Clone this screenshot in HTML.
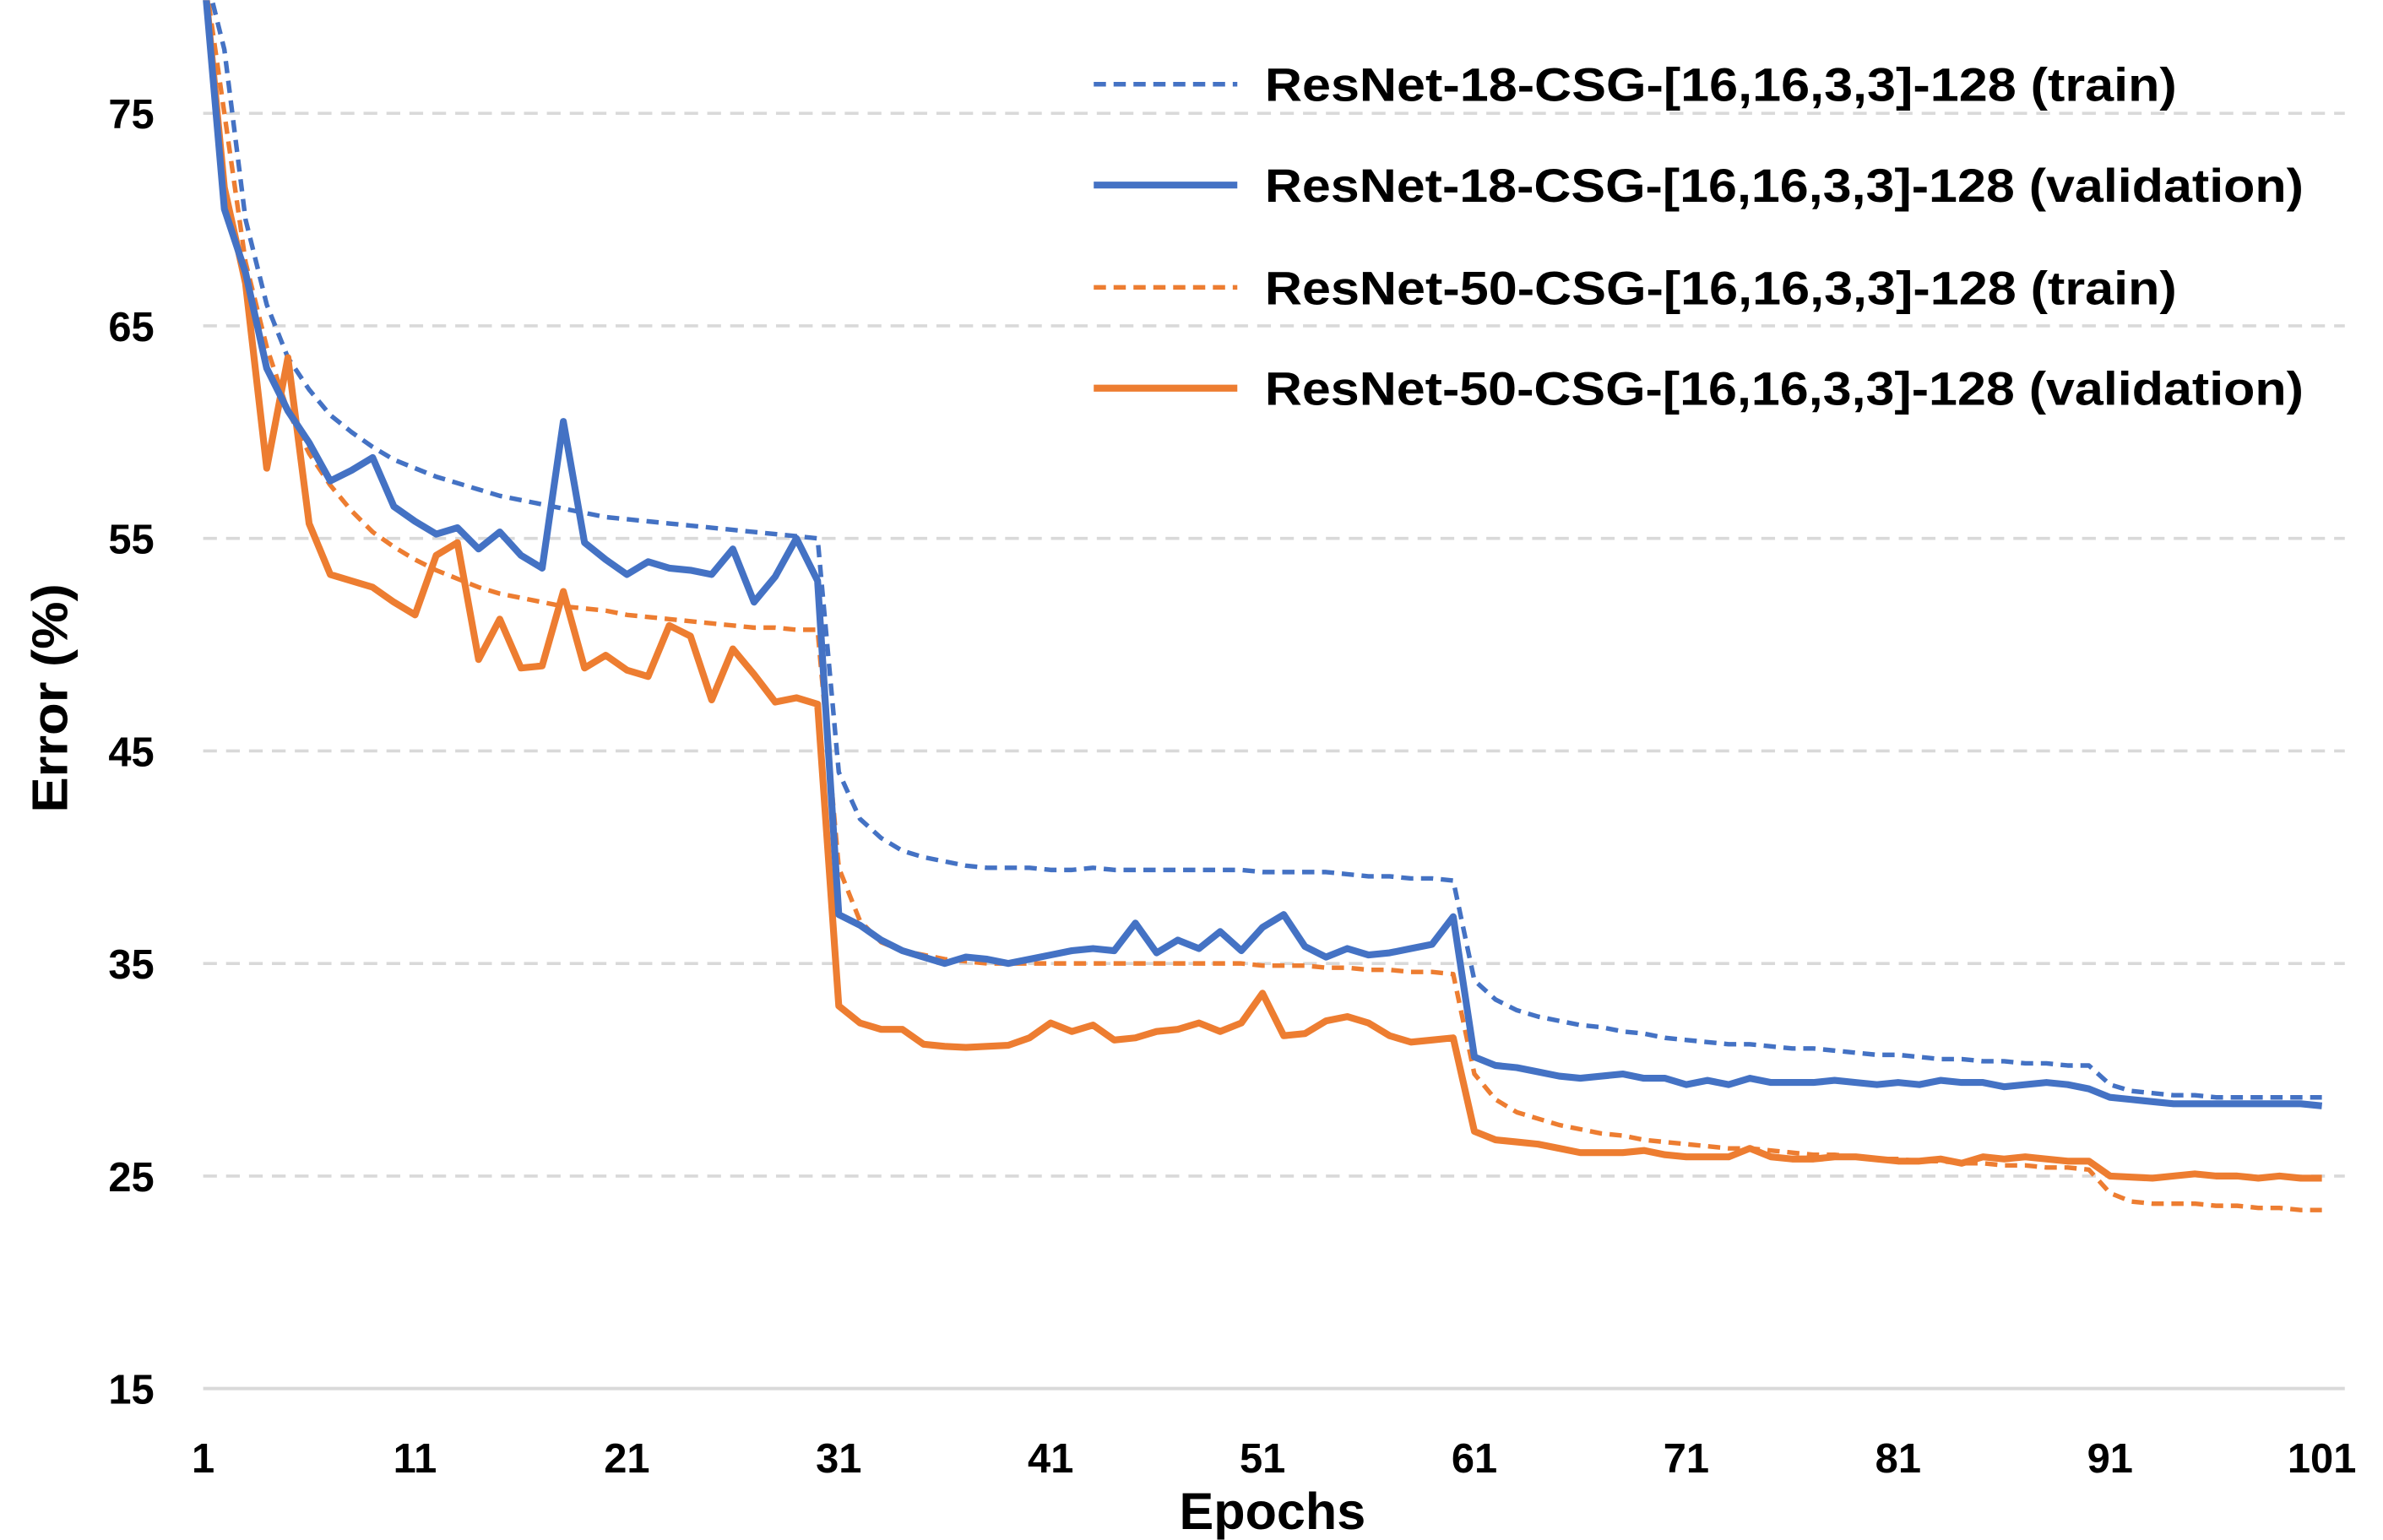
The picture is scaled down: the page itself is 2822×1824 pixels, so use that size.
<!DOCTYPE html>
<html><head><meta charset="utf-8"><style>
html,body{margin:0;padding:0;background:#fff;}
svg{display:block;}
text{font-family:"Liberation Sans",sans-serif;font-weight:bold;fill:#000;}
</style></head><body>
<svg id="chart" width="2822" height="1824" viewBox="0 0 1560 1008" xmlns="http://www.w3.org/2000/svg">
<defs><clipPath id="plotclip"><rect x="120" y="0" width="1420" height="912"/></clipPath></defs>
<g id="grid"></g>
<g id="yticks"></g>
<g id="xticks"></g>
<g id="series" clip-path="url(#plotclip)"></g>
<text x="833" y="1001" font-size="34" text-anchor="middle" textLength="122" lengthAdjust="spacingAndGlyphs">Epochs</text>
<text transform="translate(44,457) rotate(-90)" font-size="33" text-anchor="middle" textLength="150" lengthAdjust="spacingAndGlyphs">Error (%)</text>
<g id="legend"></g>
</svg>
<script>
const yTicks=[15,25,35,45,55,65,75];
const xTickLabels=[1,11,21,31,41,51,61,71,81,91,101];
const seriesNames=["ResNet-18-CSG-[16,16,3,3]-128 (train)","ResNet-18-CSG-[16,16,3,3]-128 (validation)","ResNet-50-CSG-[16,16,3,3]-128 (train)","ResNet-50-CSG-[16,16,3,3]-128 (validation)"];
const r18Train=[82,78,70,66,63.5,62,60.8,60,59.3,58.7,58.3,57.9,57.6,57.3,57.0,56.8,56.6,56.4,56.2,56.0,55.9,55.8,55.7,55.6,55.5,55.4,55.3,55.2,55.1,55.0,44.0,41.8,40.9,40.3,40.0,39.8,39.6,39.5,39.5,39.5,39.4,39.4,39.5,39.4,39.4,39.4,39.4,39.4,39.4,39.4,39.3,39.3,39.3,39.3,39.2,39.1,39.1,39.0,39.0,38.9,34.2,33.3,32.8,32.5,32.3,32.1,32.0,31.8,31.7,31.5,31.4,31.3,31.2,31.2,31.1,31.0,31.0,30.9,30.8,30.7,30.7,30.6,30.5,30.5,30.4,30.4,30.3,30.3,30.2,30.2,29.3,29.0,28.9,28.8,28.8,28.7,28.7,28.7,28.7,28.7,28.7];
const r18Val=[82,70.5,67.5,63,61,59.5,57.7,58.2,58.8,56.5,55.8,55.2,55.5,54.5,55.3,54.2,53.6,60.5,54.8,54,53.3,53.9,53.6,53.5,53.3,54.5,52,53.2,55,53,37.3,36.8,36.1,35.6,35.3,35.0,35.3,35.2,35.0,35.2,35.4,35.6,35.7,35.6,36.9,35.5,36.1,35.7,36.5,35.6,36.7,37.3,35.8,35.3,35.7,35.4,35.5,35.7,35.9,37.2,30.6,30.2,30.1,29.9,29.7,29.6,29.7,29.8,29.6,29.6,29.3,29.5,29.3,29.6,29.4,29.4,29.4,29.5,29.4,29.3,29.4,29.3,29.5,29.4,29.4,29.2,29.3,29.4,29.3,29.1,28.7,28.6,28.5,28.4,28.4,28.4,28.4,28.4,28.4,28.4,28.3];
const r50Train=[82,75,68,64,61,59,57.5,56.3,55.3,54.6,54.0,53.5,53.1,52.7,52.4,52.2,52.0,51.8,51.7,51.6,51.4,51.3,51.2,51.1,51.0,50.9,50.8,50.8,50.7,50.7,39.5,37.0,36.0,35.6,35.4,35.2,35.1,35.0,35.0,35.0,35.0,35.0,35.0,35.0,35.0,35.0,35.0,35.0,35.0,35.0,34.9,34.9,34.9,34.8,34.8,34.7,34.7,34.6,34.6,34.5,29.8,28.6,28.0,27.7,27.4,27.2,27.0,26.9,26.7,26.6,26.5,26.4,26.3,26.3,26.2,26.1,26.0,26.0,25.9,25.8,25.8,25.7,25.7,25.6,25.6,25.5,25.5,25.4,25.4,25.3,24.2,23.8,23.7,23.7,23.7,23.6,23.6,23.5,23.5,23.4,23.4];
const r50Val=[82,71.5,67,58.3,63.5,55.7,53.3,53,52.7,52,51.4,54.2,54.8,49.3,51.2,48.9,49.0,52.5,48.9,49.5,48.8,48.5,50.9,50.4,47.4,49.8,48.6,47.3,47.5,47.2,33,32.2,31.9,31.9,31.2,31.1,31.05,31.1,31.15,31.5,32.2,31.8,32.1,31.4,31.5,31.8,31.9,32.2,31.8,32.2,33.6,31.6,31.7,32.3,32.5,32.2,31.6,31.3,31.4,31.5,27.1,26.7,26.6,26.5,26.3,26.1,26.1,26.1,26.2,26.0,25.9,25.9,25.9,26.3,25.9,25.8,25.8,25.9,25.9,25.8,25.7,25.7,25.8,25.6,25.9,25.8,25.9,25.8,25.7,25.7,25.0,24.95,24.9,25.0,25.1,25.0,25.0,24.9,25.0,24.9,24.9];

const NS="http://www.w3.org/2000/svg";
const X0=133,X1=1520,Y15=909,Y75=74;
function xs(e){return X0+(e-1)*(X1-X0)/100;}
function ys(v){return Y15-(v-15)*(Y15-Y75)/60;}
function mk(tag,attrs,parent){const el=document.createElementNS(NS,tag);for(const k in attrs)el.setAttribute(k,attrs[k]);parent.appendChild(el);return el;}

const grid=document.getElementById('grid'),yt=document.getElementById('yticks'),xt=document.getElementById('xticks');
yTicks.forEach(v=>{
  const l=mk('line',{x1:X0,x2:1535,y1:ys(v),y2:ys(v),stroke:'#d9d9d9','stroke-width':v===15?2.2:2,'stroke-dasharray':v===15?'none':'9,6'},grid);
  
  
  const t=mk('text',{x:101,y:ys(v)+10,'font-size':27,'text-anchor':'end'},yt);
  t.textContent=v;
  
  
});
xTickLabels.forEach(e=>{
  const t=mk('text',{x:xs(e),y:964,'font-size':27,'text-anchor':'middle'},xt);
  t.textContent=e;
  
  
});
const colors=['#4472C4','#4472C4','#ED7D31','#ED7D31'];
const dashed=[true,false,true,false];
const data=[r18Train,r18Val,r50Train,r50Val];
const sg=document.getElementById('series');
const order=[2,0,3,1];
order.forEach(i=>{
  const pts=data[i].map((v,k)=>xs(k+1).toFixed(2)+','+ys(v).toFixed(2)).join(' ');
  const p=mk('polyline',{points:pts,fill:'none',stroke:colors[i],'stroke-width':dashed[i]?3:4.5,'stroke-dasharray':dashed[i]?'8,5':'none','stroke-linejoin':'round'},sg);
  
  
});
const lg=document.getElementById('legend');
const ly=[55,121,188,254];
const lw=[597,680,597,680];
seriesNames.forEach((n,i)=>{
  const l=mk('line',{x1:716,x2:810,y1:ly[i],y2:ly[i],stroke:colors[i],'stroke-width':dashed[i]?3:4.5,'stroke-dasharray':dashed[i]?'8,5':'none'},lg);
  
  
  const t=mk('text',{x:828,y:ly[i]+11,'font-size':31,textLength:lw[i],lengthAdjust:'spacingAndGlyphs'},lg);
  t.textContent=n;
  
  
});
</script>
</body></html>
